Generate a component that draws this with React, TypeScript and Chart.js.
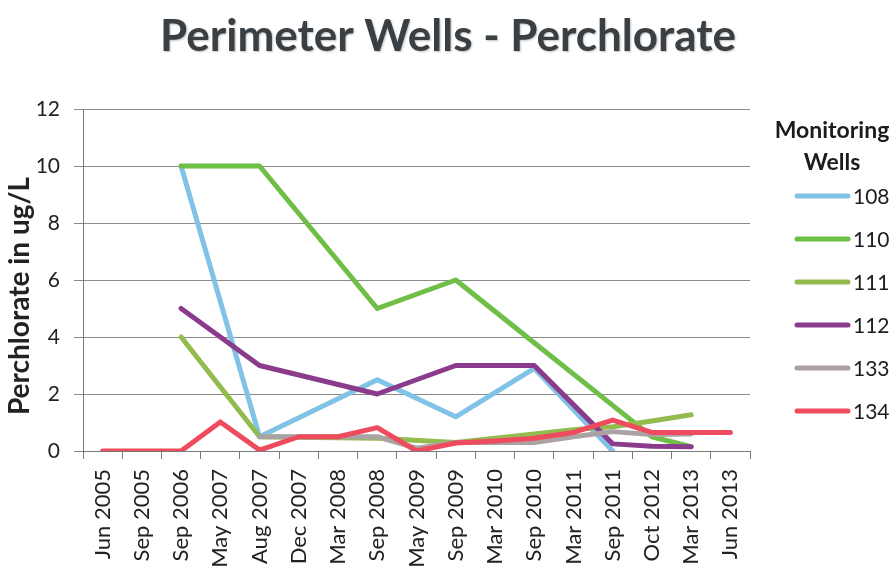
import React, { useEffect, useRef } from 'react';
import { Chart, registerables } from 'chart.js';

Chart.register(...registerables);

const categories = [
  'Jun 2005', 'Sep 2005', 'Sep 2006', 'May 2007', 'Aug 2007', 'Dec 2007',
  'Mar 2008', 'Sep 2008', 'May 2009', 'Sep 2009', 'Mar 2010', 'Sep 2010',
  'Mar 2011', 'Sep 2011', 'Oct 2012', 'Mar 2013', 'Jun 2013',
];

const wellNames = ['108', '110', '111', '112', '133', '134'];

const well108 = [null, null, 10, null, 0.5, null, null, 2.5, null, 1.2, null, 2.9, null, 0, null, null, null];
const well110 = [null, null, 10, null, 10, null, null, 5, null, 6, null, 3.8, null, 1.6, 0.5, 0.15, null];
const well111 = [null, null, 4, null, 0.5, null, null, 0.45, null, 0.3, null, 0.6, 0.75, 0.85, 1.05, 1.27, null];
const well112 = [null, null, 5, null, 3, null, null, 2, null, 3, null, 3, null, 0.25, 0.17, 0.15, null];
const well133 = [null, null, null, null, 0.5, 0.5, 0.5, 0.5, 0.1, 0.3, 0.3, 0.3, 0.5, 0.68, 0.58, 0.6, null];
const well134 = [0, 0, 0, 1.02, 0.03, 0.5, 0.5, 0.82, 0, 0.28, 0.35, 0.45, 0.65, 1.08, 0.65, 0.65, 0.65];

const wellColors = ['#80c3e6', '#6fbe45', '#93bb4e', '#8b3b8b', '#aaa2a3', '#ee4b5f'];

const yMin = 0;
const yMax = 12;
const yStep = 2;

const chartTitle = 'Perimeter Wells - Perchlorate';
const yAxisTitle = 'Perchlorate in ug/L';
const legendTitle = ['Monitoring', 'Wells'];

const FONT = 'Lato, "Noto Sans", sans-serif';

const textPlugin = {
  id: 'wellText',
  afterDraw(chart: any) {
    const ctx = chart.ctx;
    const area = chart.chartArea;
    ctx.save();

    // Chart title, centred on the full canvas
    ctx.fillStyle = '#3a3f44';
    ctx.font = `bold 44px ${FONT}`;
    ctx.textAlign = 'center';
    ctx.textBaseline = 'middle';
    ctx.shadowColor = 'rgba(0,0,0,0.25)';
    ctx.shadowBlur = 2;
    ctx.shadowOffsetX = 1;
    ctx.shadowOffsetY = 1;
    ctx.fillText(chartTitle, chart.width / 2, 37);
    ctx.shadowColor = 'transparent';

    // Y axis title
    ctx.save();
    ctx.translate(20, 296);
    ctx.rotate(-Math.PI / 2);
    ctx.fillStyle = '#222';
    ctx.font = `bold 28px ${FONT}`;
    ctx.fillText(yAxisTitle, 0, 0);
    ctx.restore();

    // Legend
    const cx = area.right + 82;
    ctx.fillStyle = '#1c1c1c';
    ctx.font = `bold 23px ${FONT}`;
    ctx.textAlign = 'center';
    ctx.fillText(legendTitle[0], cx, 131);
    ctx.fillText(legendTitle[1], cx, 163);
    ctx.font = `21px ${FONT}`;
    ctx.textAlign = 'left';
    chart.data.datasets.forEach((ds: any, i: number) => {
      const y = 196 + i * 43;
      ctx.strokeStyle = ds.borderColor;
      ctx.lineWidth = 5;
      ctx.lineCap = 'round';
      ctx.beginPath();
      ctx.moveTo(area.right + 47, y);
      ctx.lineTo(area.right + 98, y);
      ctx.stroke();
      ctx.fillStyle = '#1c1c1c';
      ctx.fillText(ds.label, area.right + 103, y + 1);
    });
    ctx.restore();
  },
};

export default function App() {
  const canvasRef = useRef<HTMLCanvasElement | null>(null);

  useEffect(() => {
    const canvas = canvasRef.current;
    if (!canvas) return;
    const series = [well108, well110, well111, well112, well133, well134];
    const chart = new Chart(canvas, {
      type: 'line',
      data: {
        labels: categories,
        datasets: series.map((data, i) => ({
          label: wellNames[i],
          data,
          borderColor: wellColors[i],
          backgroundColor: wellColors[i],
          borderWidth: 5,
          pointRadius: 0,
          pointHoverRadius: 0,
          tension: 0,
          spanGaps: true,
          borderCapStyle: 'round',
          borderJoinStyle: 'round',
          order: series.length - i,
        })),
      },
      options: {
        responsive: false,
        animation: false,
        events: [],
        layout: { padding: { left: 0, right: 146, top: 109, bottom: 0 } },
        plugins: {
          legend: { display: false },
          tooltip: { enabled: false },
          title: { display: false },
        },
        scales: {
          x: {
            type: 'category',
            offset: true,
            grid: {
              offset: true,
              drawOnChartArea: false,
              drawTicks: true,
              tickLength: 8,
              color: '#7a7a7a',
            },
            border: { color: '#7a7a7a', width: 1 },
            ticks: {
              autoSkip: false,
              minRotation: 90,
              maxRotation: 90,
              padding: 10,
              color: '#222',
              font: { family: FONT, size: 22 },
            },
            afterFit(scale: any) {
              scale.height = 118;
            },
          },
          y: {
            min: yMin,
            max: yMax,
            ticks: {
              stepSize: yStep,
              padding: 14,
              color: '#222',
              font: { family: FONT, size: 21 },
            },
            grid: { color: '#8a8a8a', tickLength: 9, lineWidth: 1 },
            border: { color: '#7a7a7a', width: 1 },
            title: { display: false },
            afterFit(scale: any) {
              scale.width = 83;
            },
          },
        },
      },
      plugins: [textPlugin],
    } as any);
    return () => chart.destroy();
  }, []);

  return (
    <div style={{ position: 'fixed', left: 0, top: 0, width: 896, height: 569, background: '#fff' }}>
      <canvas ref={canvasRef} width={896} height={569} style={{ display: 'block' }} />
    </div>
  );
}
